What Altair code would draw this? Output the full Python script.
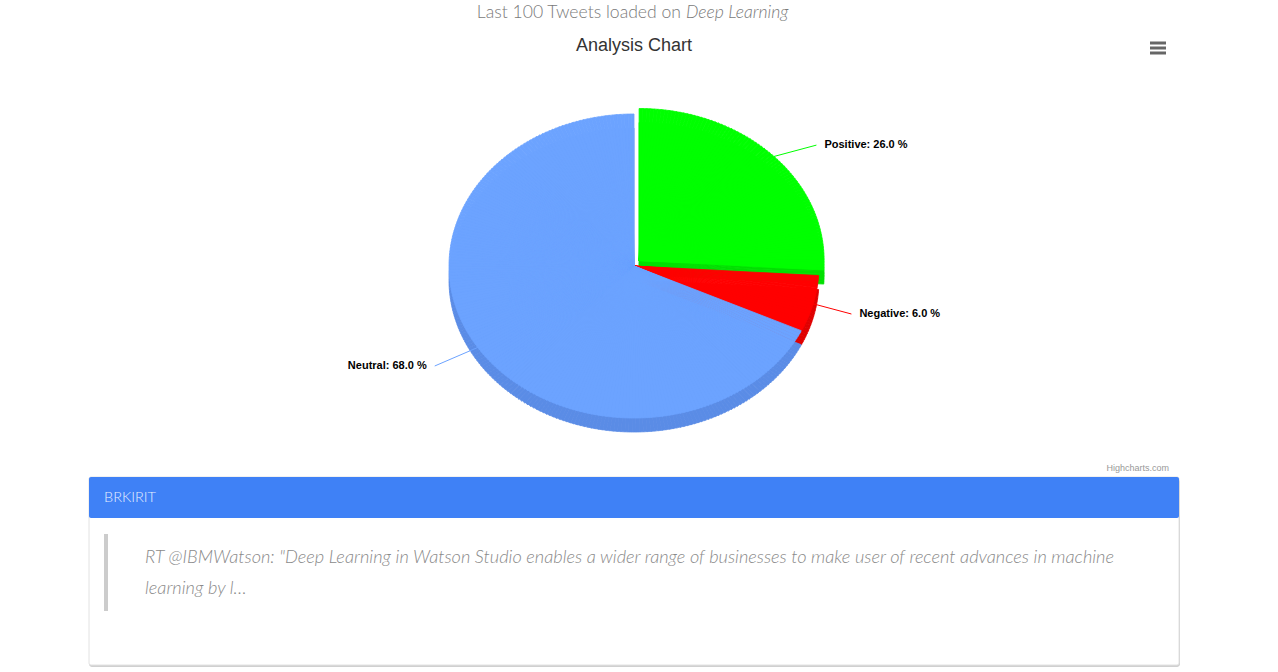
import altair as alt
import pandas as pd

# ---------------- data ----------------
CATEGORIES = ["Positive", "Negative", "Neutral"]
VALUES = [26.0, 6.0, 68.0]
TOP_COLORS = ["#00ff00", "#ff0000", "#6ca3ff"]
SIDE_COLORS = ["#00e000", "#e00000", "#5a8ce6"]
SLICED = "Positive"

PAGE_TITLE = "Last 100 Tweets loaded on"
PAGE_TOPIC = "Deep Learning"
CHART_TITLE = "Analysis Chart"
CREDITS = "Highcharts.com"
CARD_USER = "BRKIRIT"
QUOTE_LINES = [
    'RT @IBMWatson: "Deep Learning in Watson Studio enables a wider range of businesses to make user of recent advances in machine',
    "learning by l\u2026",
]

# ---------------- layout ----------------
W, H = 1278, 672
CX, CY = 634, 266          # pie centre (px)
RX, RY = 185, 152          # projected ellipse radii
DEPTH = 14                 # 3D depth
SLICE_DX, SLICE_DY = 7, 8  # sliced offset along bisector
LA, LRX = 84, 146          # label x distance: LA + LRX*|sin|
LRY, LB = 181, 3           # label y distance
GAP = 8                    # connector padding
STEP = 0.02                # angular step for the elliptical rendering

df = pd.DataFrame({"category": CATEGORIES, "value": VALUES, "order": list(range(len(CATEGORIES)))})

base = (
    alt.Chart(df)
    .transform_window(cum="sum(value)", sort=[alt.SortField("order")])
    .transform_joinaggregate(total="sum(value)")
    .transform_calculate(a0="(datum.cum - datum.value) / datum.total * 2 * PI")
    .transform_calculate(a1="datum.cum / datum.total * 2 * PI")
    .transform_calculate(mid="(datum.a0 + datum.a1) / 2")
    .transform_calculate(ox=f"datum.category == '{SLICED}' ? {SLICE_DX} * sin(datum.mid) : 0")
    .transform_calculate(oy=f"datum.category == '{SLICED}' ? -{SLICE_DY} * cos(datum.mid) : 0")
)

def proj(p):
    t = f"atan2({RX} * sin({p}), {RY} * cos({p}))"
    return f"{t} + 2 * PI * round(({p} - {t}) / (2 * PI))"

slices = (
    base.transform_calculate(k=f"sequence(0, ceil((datum.a1 - datum.a0) / {STEP}))")
    .transform_flatten(["k"])
    .transform_calculate(p0=f"datum.a0 + datum.k * {STEP}")
    .transform_calculate(p1=f"min(datum.a0 + (datum.k + 1) * {STEP}, datum.a1)")
    .transform_calculate(pm="(datum.p0 + datum.p1) / 2")
    .transform_calculate(t0=proj("datum.p0"))
    .transform_calculate(t1=proj("datum.p1"))
    .transform_calculate(r=f"sqrt(pow({RX} * sin(datum.pm), 2) + pow({RY} * cos(datum.pm), 2))")
)

def pie_layer(colors, dy):
    sc = alt.Scale(domain=CATEGORIES, range=colors)
    return (
        slices.transform_calculate(px=f"{CX} + datum.ox", py=f"{CY} + datum.oy + {dy}")
        .mark_arc(strokeWidth=0.8)
        .encode(
            x=alt.X("px:Q", scale=None, axis=None),
            y=alt.Y("py:Q", scale=None, axis=None),
            theta=alt.Theta("t0:Q", scale=None, stack=False),
            theta2="t1:Q",
            radius=alt.Radius("r:Q", scale=None),
            fill=alt.Fill("category:N", scale=sc, legend=None),
            stroke=alt.Stroke("category:N", scale=sc, legend=None),
        )
    )

pie = alt.layer(pie_layer(SIDE_COLORS, DEPTH), pie_layer(TOP_COLORS, 0)).resolve_scale(
    fill="independent", stroke="independent"
)

lab = (
    base.transform_calculate(s="sin(datum.mid)")
    .transform_calculate(c="cos(datum.mid)")
    .transform_calculate(sg="datum.s >= 0 ? 1 : -1")
    .transform_calculate(lx=f"{CX} + datum.sg * ({LA} + {LRX} * abs(datum.s))")
    .transform_calculate(ly=f"{CY} - {LRY} * datum.c + {LB}")
    .transform_calculate(ex=f"{CX} + datum.ox + {RX} * datum.s")
    .transform_calculate(ey=f"{CY} + datum.oy - {RY} * datum.c")
    .transform_calculate(cx2=f"datum.lx - datum.sg * {GAP}")
    .transform_calculate(txt="datum.category + ': ' + format(datum.value / datum.total * 100, '.1f') + ' %'")
)

conn_sc = alt.Scale(domain=CATEGORIES, range=TOP_COLORS)
connectors = lab.mark_rule(strokeWidth=1).encode(
    x=alt.X("ex:Q", scale=None, axis=None),
    y=alt.Y("ey:Q", scale=None, axis=None),
    x2="cx2:Q",
    y2="ly:Q",
    color=alt.Color("category:N", scale=conn_sc, legend=None),
)

label_style = dict(baseline="middle", fontSize=11, fontWeight="bold", font="Liberation Sans", color="#000000")
labels_r = lab.transform_filter("datum.s >= 0").mark_text(align="left", **label_style).encode(
    x=alt.X("lx:Q", scale=None, axis=None), y=alt.Y("ly:Q", scale=None, axis=None), text="txt:N"
)
labels_l = lab.transform_filter("datum.s < 0").mark_text(align="right", **label_style).encode(
    x=alt.X("lx:Q", scale=None, axis=None), y=alt.Y("ly:Q", scale=None, axis=None), text="txt:N"
)

# ---------------- page decoration ----------------
one = alt.Chart(pd.DataFrame({"d": [0]}))

def text(t, x, y, **kw):
    return one.mark_text(baseline="middle", **kw).encode(x=alt.value(x), y=alt.value(y), text=alt.value(t))

def rect(x, x2, y, y2, **kw):
    return one.mark_rect(**kw).encode(x=alt.value(x), x2=alt.value(x2), y=alt.value(y), y2=alt.value(y2))

PAGE_FONT = "Lato"
decor = [
    text(PAGE_TITLE, 681, 12.5, align="right", font=PAGE_FONT, fontWeight=300, fontSize=17.6, color="#7a7a7a"),
    text(PAGE_TOPIC, 686, 12.5, align="left", font=PAGE_FONT, fontWeight=300, fontStyle="italic", fontSize=17.6, color="#7a7a7a"),
    text(CHART_TITLE, 634, 45.5, align="center", font="Liberation Sans", fontSize=18, color="#333333"),
    text(CREDITS, 1169, 468, align="right", font="Liberation Sans", fontSize=9, color="#999999"),
]
for yy in (43, 48, 53):
    decor.append(
        one.mark_rule(strokeWidth=3, color="#666666").encode(x=alt.value(1150), x2=alt.value(1166), y=alt.value(yy))
    )

card = [
    rect(89, 1180, 479, 667, fill="#d0d0d0", cornerRadius=3),
    rect(89, 1179, 477, 665, fill="#ffffff", stroke="#e2e2e2", strokeWidth=1, cornerRadius=2),
    rect(89, 1179, 477, 518, fill="#3f81f6", cornerRadius=2),
    text(CARD_USER, 104, 497.5, align="left", font=PAGE_FONT, fontWeight=300, fontSize=14.5, color="#e6eeff"),
    rect(104, 108, 534, 611, fill="#cccccc"),
    text(QUOTE_LINES[0], 145, 558, align="left", font=PAGE_FONT, fontWeight=300, fontStyle="italic", fontSize=18.2, color="#8a8a8a"),
    text(QUOTE_LINES[1], 145, 589, align="left", font=PAGE_FONT, fontWeight=300, fontStyle="italic", fontSize=18.2, color="#8a8a8a"),
]

chart = (
    alt.layer(*decor, *card, pie, connectors, labels_r, labels_l)
    .properties(width=W, height=H, padding=0, autosize=alt.AutoSizeParams(type="none"))
    .configure_view(strokeWidth=0)
)

chart.save("out.html", embed_options={"renderer": "svg", "actions": False})
